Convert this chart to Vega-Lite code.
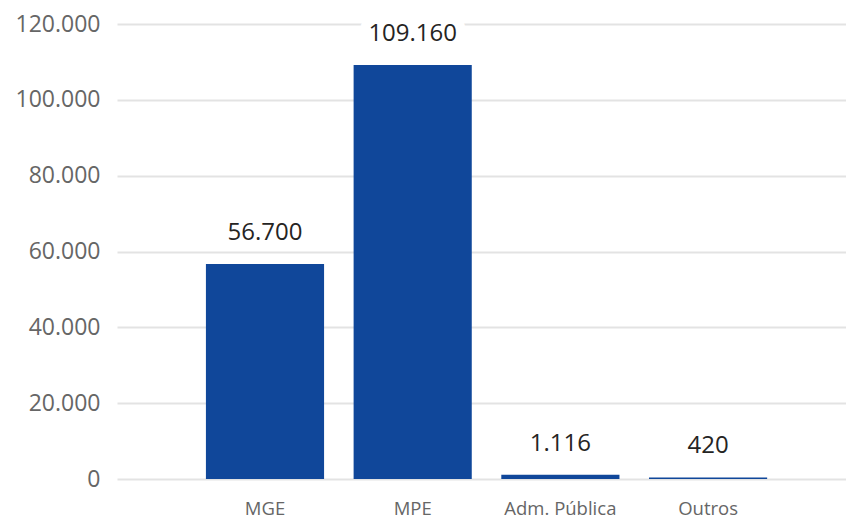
{
  "$schema": "https://vega.github.io/schema/vega-lite/v6.json",
  "width": 729,
  "height": 455,
  "autosize": {"type": "none"},
  "padding": {"left": 117, "top": 24, "right": 0, "bottom": 45},
  "background": "white",
  "config": {
    "view": {"stroke": null},
    "font": "Open Sans",
    "locale": {"number": {"decimal": ",", "thousands": ".", "grouping": [3], "currency": ["R$", ""]}}
  },
  "data": {
    "values": [
      {"categoria": "MGE", "valor": 56700},
      {"categoria": "MPE", "valor": 109160},
      {"categoria": "Adm. Pública", "valor": 1116},
      {"categoria": "Outros", "valor": 420}
    ]
  },
  "encoding": {
    "x": {
      "field": "categoria",
      "type": "nominal",
      "sort": null,
      "scale": {"paddingInner": 0.2, "paddingOuter": 0.568, "align": 0.53},
      "axis": {
        "title": null,
        "labelAngle": 0,
        "domain": false,
        "ticks": false,
        "labelFont": "Open Sans",
        "labelFontSize": 18.5,
        "labelColor": "#666666",
        "labelPadding": 20
      }
    },
    "y": {
      "field": "valor",
      "type": "quantitative",
      "scale": {"domain": [0, 120000]},
      "axis": {
        "title": null,
        "values": [0, 20000, 40000, 60000, 80000, 100000, 120000],
        "format": ",.0f",
        "domain": false,
        "ticks": false,
        "grid": true,
        "gridColor": "#e3e3e3",
        "gridWidth": 2,
        "labelFont": "Open Sans",
        "labelFontSize": 23,
        "labelColor": "#666666",
        "labelPadding": 17
      }
    }
  },
  "layer": [
    {
      "mark": {"type": "bar", "color": "#10479A"}
    },
    {
      "mark": {"type": "text", "baseline": "alphabetic", "dy": -24, "fontSize": 24, "font": "Open Sans", "stroke": "white", "strokeWidth": 20, "strokeJoin": "round", "fill": "white"},
      "encoding": {"text": {"field": "valor", "type": "quantitative", "format": ",.0f"}}
    },
    {
      "mark": {"type": "text", "baseline": "alphabetic", "dy": -24, "fontSize": 24, "font": "Open Sans", "color": "#252423"},
      "encoding": {"text": {"field": "valor", "type": "quantitative", "format": ",.0f"}}
    }
  ]
}
